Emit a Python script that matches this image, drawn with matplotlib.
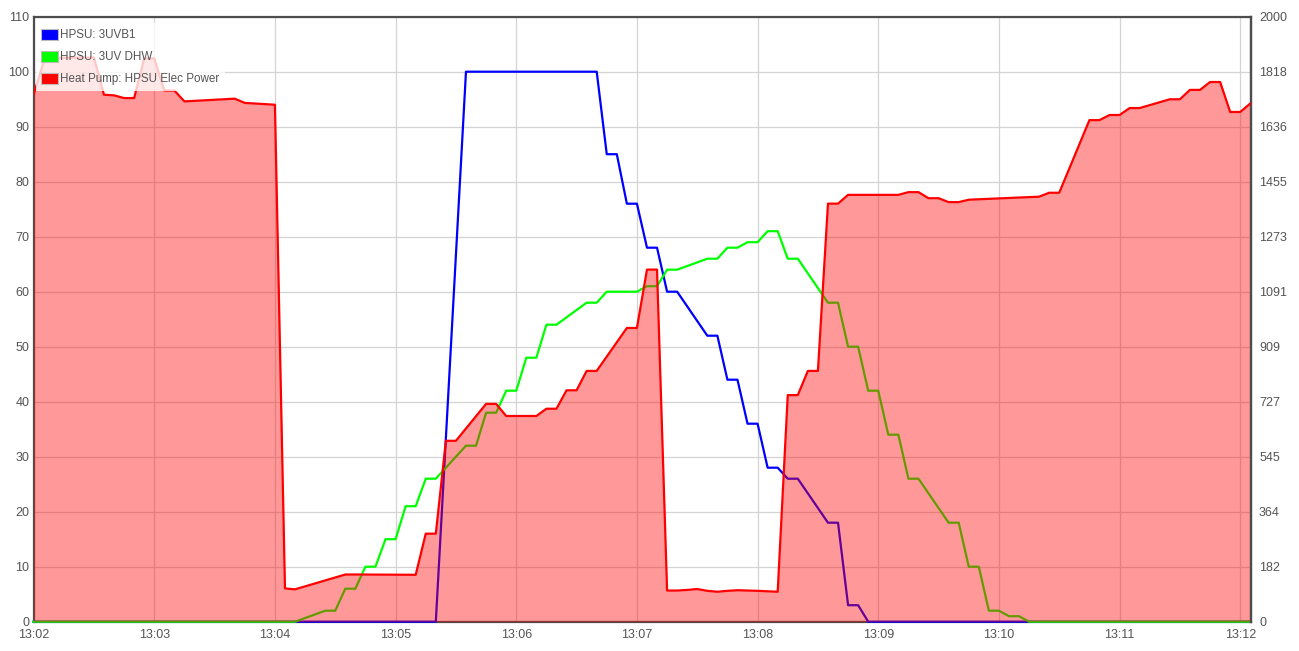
import matplotlib
matplotlib.use("Agg")
import matplotlib.pyplot as plt
from matplotlib.patches import Patch

# ---- data (time in seconds after 13:02:00) ----
blue_t = [0, 200, 215, 280, 285, 290, 295, 300, 305, 310, 315, 320, 335, 340, 345, 350,
          355, 360, 365, 370, 375, 380, 395, 400, 405, 410, 415, 605]
blue_v = [0, 0, 100, 100, 85, 85, 76, 76, 68, 68, 60, 60, 52, 52, 44, 44,
          36, 36, 28, 28, 26, 26, 18, 18, 3, 3, 0, 0]

green_t = [0, 130, 145, 150, 155, 160, 165, 170, 175, 180, 185, 190, 195, 200, 215, 220,
           225, 230, 235, 240, 245, 250, 255, 260, 275, 280, 285, 300, 305, 310, 315, 320,
           335, 340, 345, 350, 355, 360, 365, 370, 375, 380, 395, 400, 405, 410, 415, 420,
           425, 430, 435, 440, 455, 460, 465, 470, 475, 480, 485, 490, 495, 605]
green_v = [0, 0, 2, 2, 6, 6, 10, 10, 15, 15, 21, 21, 26, 26, 32, 32,
           38, 38, 42, 42, 48, 48, 54, 54, 58, 58, 60, 60, 61, 61, 64, 64,
           66, 66, 68, 68, 69, 69, 71, 71, 66, 66, 58, 58, 50, 50, 42, 42,
           34, 34, 26, 26, 18, 18, 10, 10, 2, 2, 1, 1, 0, 0]

red_t = [0, 5, 10, 30, 35, 40, 45, 50, 55, 60, 65, 70, 75, 100, 105, 115, 120,
         125, 130, 155, 160, 190, 195, 200, 205, 210, 225, 230, 235, 250, 255, 260,
         265, 270, 275, 280, 295, 300, 305, 310, 315, 320, 325, 330, 335, 340, 345,
         350, 355, 360, 370, 375, 380, 385, 390, 395, 400, 405, 430, 435, 440, 445,
         450, 455, 460, 465, 500, 505, 510, 525, 530, 535, 540, 545, 550, 565, 570,
         575, 580, 585, 590, 595, 600, 605]
red_v = [1742, 1851, 1864, 1865, 1742, 1740, 1731, 1731, 1862, 1862, 1756, 1756, 1720, 1729, 1715, 1711, 1709,
         110, 107, 156, 156, 155, 291, 291, 598, 598, 720, 720, 680, 680, 704, 704,
         765, 765, 829, 829, 971, 971, 1164, 1164, 103, 103, 105, 108, 102, 99, 102,
         104, 103, 102, 99, 749, 749, 829, 829, 1382, 1382, 1411, 1411, 1420, 1420, 1400,
         1400, 1387, 1387, 1395, 1405, 1418, 1418, 1658, 1658, 1675, 1675, 1698, 1698, 1727, 1727,
         1758, 1758, 1784, 1784, 1685, 1685, 1713]

x_ticks = [0, 60, 120, 180, 240, 300, 360, 420, 480, 540, 600]
x_labels = ["13:02", "13:03", "13:04", "13:05", "13:06", "13:07", "13:08", "13:09", "13:10", "13:11", "13:12"]
left_ticks = [0, 10, 20, 30, 40, 50, 60, 70, 80, 90, 100, 110]
right_ticks = [0, 2000 / 11, 4000 / 11, 6000 / 11, 8000 / 11, 10000 / 11, 12000 / 11, 14000 / 11,
               16000 / 11, 18000 / 11, 20000 / 11, 2000]
right_labels = ["0", "182", "364", "545", "727", "909", "1091", "1273", "1455", "1636", "1818", "2000"]

series_names = ["HPSU: 3UVB1", "HPSU: 3UV DHW", "Heat Pump: HPSU Elec Power"]
series_colors = ["#0000ff", "#00ff00", "#ff0000"]

plt.rcParams['font.family'] = ['Liberation Sans', 'DejaVu Sans']
TXT = "#545454"

fig = plt.figure(figsize=(12.99, 6.51), dpi=100)
W, H = 1299, 651
x0, x1, ytop, ybot = 33.6, 1250.7, 16.7, 621.7
ax = fig.add_axes([x0 / W, (H - ybot) / H, (x1 - x0) / W, (ybot - ytop) / H])
ax2 = ax.twinx()

ax.set_xlim(0, 605.2)
ax.set_ylim(0, 110)
ax2.set_ylim(0, 2000)

ax.set_xticks(x_ticks)
ax.set_xticklabels(x_labels)
ax.set_yticks(left_ticks)
ax2.set_yticks(right_ticks)
ax2.set_yticklabels(right_labels)

ax.grid(True, color="#d4d4d4", linewidth=0.9)
ax.set_axisbelow(True)

for s in ax.spines.values():
    s.set_color("#4d4d4d")
    s.set_linewidth(1.6)
    s.set_zorder(2.5)
for name, s in ax2.spines.items():
    s.set_color("#4d4d4d")
    s.set_linewidth(1.6)
    s.set_visible(name == "right")

ax.tick_params(axis='both', length=0, labelsize=9, colors=TXT, pad=3)
ax.tick_params(axis='x', pad=5)
ax2.tick_params(axis='y', length=0, labelsize=9, colors=TXT, pad=6)

ax.plot(blue_t, blue_v, color=series_colors[0], linewidth=1.6, zorder=3, clip_on=False)
ax.plot(green_t, green_v, color=series_colors[1], linewidth=1.6, zorder=3, clip_on=False)

ax2.fill_between(red_t, red_v, 0, color="#ff0000", alpha=0.4, linewidth=0, zorder=2)
ax2.plot(red_t, red_v, color=series_colors[2], linewidth=1.6, zorder=3)

handles = [Patch(facecolor=c, edgecolor="#bbbbbb", linewidth=0.8) for c in series_colors]
leg = ax2.legend(handles, series_names, loc="upper left", fontsize=8.4, frameon=True,
                 bbox_to_anchor=(2.0 / 1217, 1 - 6.0 / 605),
                 framealpha=0.78, edgecolor="none", facecolor="white", fancybox=False,
                 handlelength=1.38, handleheight=1.1, handletextpad=0.22, labelspacing=0.82,
                 borderpad=0.5, borderaxespad=0.0)
for t in leg.get_texts():
    t.set_color(TXT)
leg.set_zorder(10)

fig.savefig("out.png", dpi=100)
